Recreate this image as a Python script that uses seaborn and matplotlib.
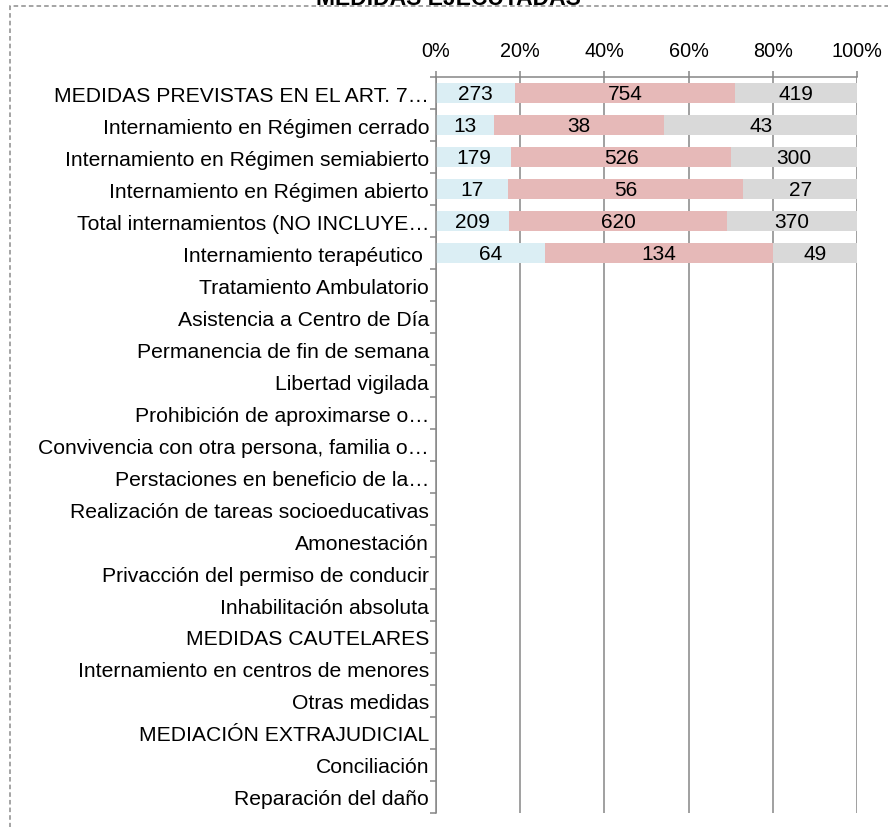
import numpy as np
import pandas as pd
import matplotlib
matplotlib.use("Agg")
import matplotlib.pyplot as plt
import seaborn as sns
from matplotlib.patches import Rectangle

sns.set_theme(style="white")
plt.rcParams["font.family"] = ["Liberation Sans", "DejaVu Sans"]

# ---------------- data ----------------
categories = [
    "MEDIDAS PREVISTAS EN EL ART. 7…",
    "Internamiento en Régimen cerrado",
    "Internamiento en Régimen semiabierto",
    "Internamiento en Régimen abierto",
    "Total internamientos (NO INCLUYE…",
    "Internamiento terapéutico ",
    "Tratamiento Ambulatorio",
    "Asistencia a Centro de Día",
    "Permanencia de fin de semana",
    "Libertad vigilada",
    "Prohibición de aproximarse o…",
    "Convivencia con otra persona, familia o…",
    "Perstaciones en beneficio de la…",
    "Realización de tareas socioeducativas",
    "Amonestación",
    "Privacción del permiso de conducir",
    "Inhabilitación absoluta",
    "MEDIDAS CAUTELARES",
    "Internamiento en centros de menores",
    "Otras medidas",
    "MEDIACIÓN EXTRAJUDICIAL",
    "Conciliación",
    "Reparación del daño",
]
serie1 = [273, 13, 179, 17, 209, 64] + [None] * 17
serie2 = [754, 38, 526, 56, 620, 134] + [None] * 17
serie3 = [419, 43, 300, 27, 370, 49] + [None] * 17
series_names = ["Serie 1", "Serie 2", "Serie 3"]
x_ticks = [0, 20, 40, 60, 80, 100]
x_ticklabels = ["0%", "20%", "40%", "60%", "80%", "100%"]
title = "MEDIDAS EJECUTADAS"

colors = ["#DBEEF4", "#E6B9B8", "#D9D9D9"]

# ---------------- prep ----------------
v1 = np.array([np.nan if v is None else v for v in serie1], dtype=float)
v2 = np.array([np.nan if v is None else v for v in serie2], dtype=float)
v3 = np.array([np.nan if v is None else v for v in serie3], dtype=float)
tot = v1 + v2 + v3
p1 = np.nan_to_num(v1 / tot * 100)
p2 = np.nan_to_num(v2 / tot * 100)
p3 = np.nan_to_num(v3 / tot * 100)
df = pd.DataFrame({
    "cat": categories,
    "c1": p1,
    "c2": p1 + p2,
    "c3": p1 + p2 + p3,
})

W, H = 888, 828
fig = plt.figure(figsize=(W / 100, H / 100), dpi=100)
ax = fig.add_axes([436 / W, 1 - 814 / H, (857 - 436) / W, (814 - 78) / H])

n = len(categories)
for col, c in zip(["c3", "c2", "c1"], colors[::-1]):
    sns.barplot(data=df, x=col, y="cat", orient="h", color=c, width=0.62,
                errorbar=None, linewidth=0, saturation=1, ax=ax, order=categories)

# labels
fs = 15
for i in range(n):
    if np.isnan(tot[i]):
        continue
    starts = [0, p1[i], p1[i] + p2[i]]
    widths = [p1[i], p2[i], p3[i]]
    vals = [v1[i], v2[i], v3[i]]
    for s, w, v in zip(starts, widths, vals):
        ax.text(s + w / 2, i + 0.03, f"{int(v)}", ha="center", va="center",
                fontsize=fs, color="black")

ax.set_xlim(0, 100)
ax.set_ylim(n - 0.5, -0.5)
ax.xaxis.tick_top()
ax.set_xticks(x_ticks)
ax.set_xticklabels(x_ticklabels, fontsize=14.3)
ax.set_xlabel("")
ax.set_ylabel("")
ax.set_yticks(range(n))
ax.set_yticklabels(categories, fontsize=15.2)
ax.set_yticks(np.arange(-0.5, n, 1), minor=True)
ax.tick_params(axis="y", which="major", length=0, pad=5, colors="black")
ax.tick_params(axis="y", which="minor", length=4.5, width=1.1, color="#868686", left=True)
ax.tick_params(axis="x", which="major", length=4.5, width=1.1, color="#868686",
               pad=8, top=True, bottom=False, labelcolor="black")
ax.grid(axis="x", color="#868686", linewidth=1.1)
ax.grid(axis="y", visible=False)
ax.set_axisbelow(True)
for s in ["right", "bottom"]:
    ax.spines[s].set_visible(False)
for s in ["left", "top"]:
    ax.spines[s].set_color("#868686")
    ax.spines[s].set_linewidth(1.1)

# dashed chart border
fig.patches.append(Rectangle((10 / W, -0.1), 1.2, 1 - 7 / H + 0.1,
                             transform=fig.transFigure, fill=False,
                             edgecolor="#8C8C8C", linewidth=1.1,
                             linestyle=(0, (3, 2))))

# title (partly above the top edge, as in the reference)
fig.text(448 / W, 1 - 5 / H, title, ha="center", va="baseline",
         fontsize=16.5, fontweight="bold", color="black")

fig.savefig("out.png", dpi=100)
